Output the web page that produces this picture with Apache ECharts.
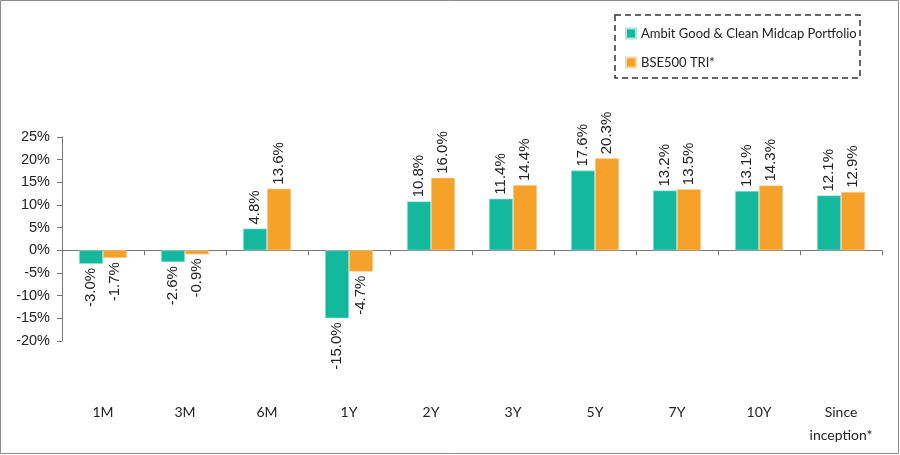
<!DOCTYPE html>
<html><head><meta charset="utf-8">
<script src="https://cdn.jsdelivr.net/npm/echarts@6/dist/echarts.min.js"></script>
<style>html,body{margin:0;padding:0;background:#fff}#c{width:900px;height:455px}</style>
</head><body><div id="c"></div>
<script>
const categories = ['1M','3M','6M','1Y','2Y','3Y','5Y','7Y','10Y','Since\ninception*'];
const portfolioName = 'Ambit Good & Clean Midcap Portfolio';
const benchmarkName = 'BSE500 TRI*';
const portfolio = [-3.0, -2.6, 4.8, -15.0, 10.8, 11.4, 17.6, 13.2, 13.1, 12.1];
const benchmark = [-1.7, -0.9, 13.6, -4.7, 16.0, 14.4, 20.3, 13.5, 14.3, 12.9];
const yMin = -20, yMax = 25, yStep = 5;

const TEAL = '#13b89d', ORANGE = '#f5a12a';
const txt = '#222';
function withLabels(arr){
  return arr.map(v => ({
    value: v,
    label: v >= 0
      ? {position:'top', align:'left', verticalAlign:'middle', distance:4}
      : {position:'bottom', align:'right', verticalAlign:'middle', distance:4}
  }));
}
const labelBase = {show:true, rotate:90, color:txt, fontSize:15, fontFamily:'Liberation Sans',
  formatter: p => p.value.toFixed(1) + '%'};

const chart = echarts.init(document.getElementById('c'), null, {renderer:'canvas'});
chart.setOption({
  animation:false,
  backgroundColor:'#fff',
  graphic:[
    {type:'rect', shape:{x:0.5,y:0.5,width:898,height:453}, style:{fill:'none', stroke:'#8a8a8a', lineWidth:1}, z:-1},
    {type:'rect', shape:{x:615,y:15,width:245,height:63}, style:{fill:'none', stroke:'#333', lineWidth:1.5, lineDash:[6,4]}}
  ],
  legend:{
    orient:'vertical', left:620, top:22, itemWidth:10, itemHeight:10, itemGap:16,
    icon:'rect',
    textStyle:{color:txt, fontSize:13, fontFamily:'Lato'},
    data:[portfolioName, benchmarkName]
  },
  grid:{left:62, right:18, top:137, bottom:114},
  xAxis:[
    {type:'category', data:categories, position:'bottom',
     axisLine:{show:false, onZero:false}, axisTick:{show:false},
     axisLabel:{margin:60, color:txt, fontSize:14, fontFamily:'Lato', lineHeight:23, verticalAlign:'top'}},
    {type:'category', data:categories, position:'bottom',
     axisLine:{show:true, onZero:true, lineStyle:{color:'#777', width:1}},
     axisTick:{show:true, length:5, inside:false, lineStyle:{color:'#777'}},
     axisLabel:{show:false}}
  ],
  yAxis:{type:'value', min:yMin, max:yMax, interval:yStep,
    axisLine:{show:true, lineStyle:{color:'#777'}},
    axisTick:{show:true, length:5, lineStyle:{color:'#777'}},
    splitLine:{show:false},
    axisLabel:{margin:12, color:txt, fontSize:14.5, fontFamily:'Liberation Sans', formatter:v => v + '%'}},
  series:[
    {name:portfolioName, type:'bar', xAxisIndex:1, data:withLabels(portfolio), barWidth:24, barGap:'0%',
     itemStyle:{color:TEAL, borderColor:'#aee6db', borderWidth:0.6}, label:labelBase},
    {name:benchmarkName, type:'bar', xAxisIndex:1, data:withLabels(benchmark), barWidth:24, barGap:'0%',
     itemStyle:{color:ORANGE, borderColor:'#fbd7a6', borderWidth:0.6}, label:labelBase}
  ]
});
</script></body></html>
